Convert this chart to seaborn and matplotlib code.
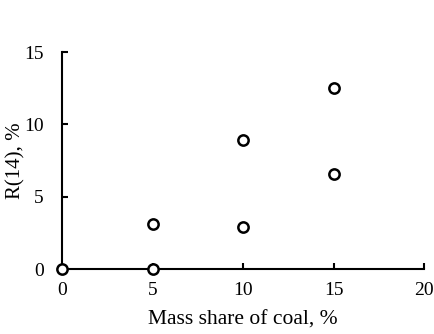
import matplotlib
matplotlib.use("Agg")
import matplotlib.pyplot as plt
import seaborn as sns
import pandas as pd

mass_share = [0, 5, 5, 10, 10, 15, 15]
r14 = [0.0, 0.0, 3.1, 2.9, 8.9, 6.6, 12.5]
x_ticks = [0, 5, 10, 15, 20]
y_ticks = [0, 5, 10, 15]

sns.set_theme(style="white")
plt.rcParams['font.family'] = ['Liberation Serif', 'DejaVu Serif']

df = pd.DataFrame({"x": mass_share, "y": r14})

fig = plt.figure(figsize=(4.35, 3.34), dpi=100)
ax = fig.add_axes([0.1425, 0.1946, 0.975 - 0.1425, 0.844 - 0.1946])
sns.scatterplot(data=df, x="x", y="y", ax=ax, marker="o", s=55,
                facecolor="white", edgecolor="black", linewidth=1.8,
                clip_on=False, zorder=5)
ax.set_xlim(0, 20)
ax.set_ylim(0, 15)
ax.set_xticks(x_ticks)
ax.set_yticks(y_ticks)
for s in ["top", "right"]:
    ax.spines[s].set_visible(False)
for s in ["left", "bottom"]:
    ax.spines[s].set_color("black")
    ax.spines[s].set_linewidth(1.5)
ax.tick_params(direction="in", length=4, width=1.5, colors="black",
               labelsize=14, left=True, bottom=True)
ax.tick_params(axis="x", pad=9)
ax.tick_params(axis="y", pad=13)
ax.set_xlabel("Mass share of coal, %", fontsize=15.5, color="black", labelpad=9)
ax.set_ylabel("R(14), %", fontsize=15, color="black", labelpad=-1)
fig.savefig("out.png", dpi=100)
